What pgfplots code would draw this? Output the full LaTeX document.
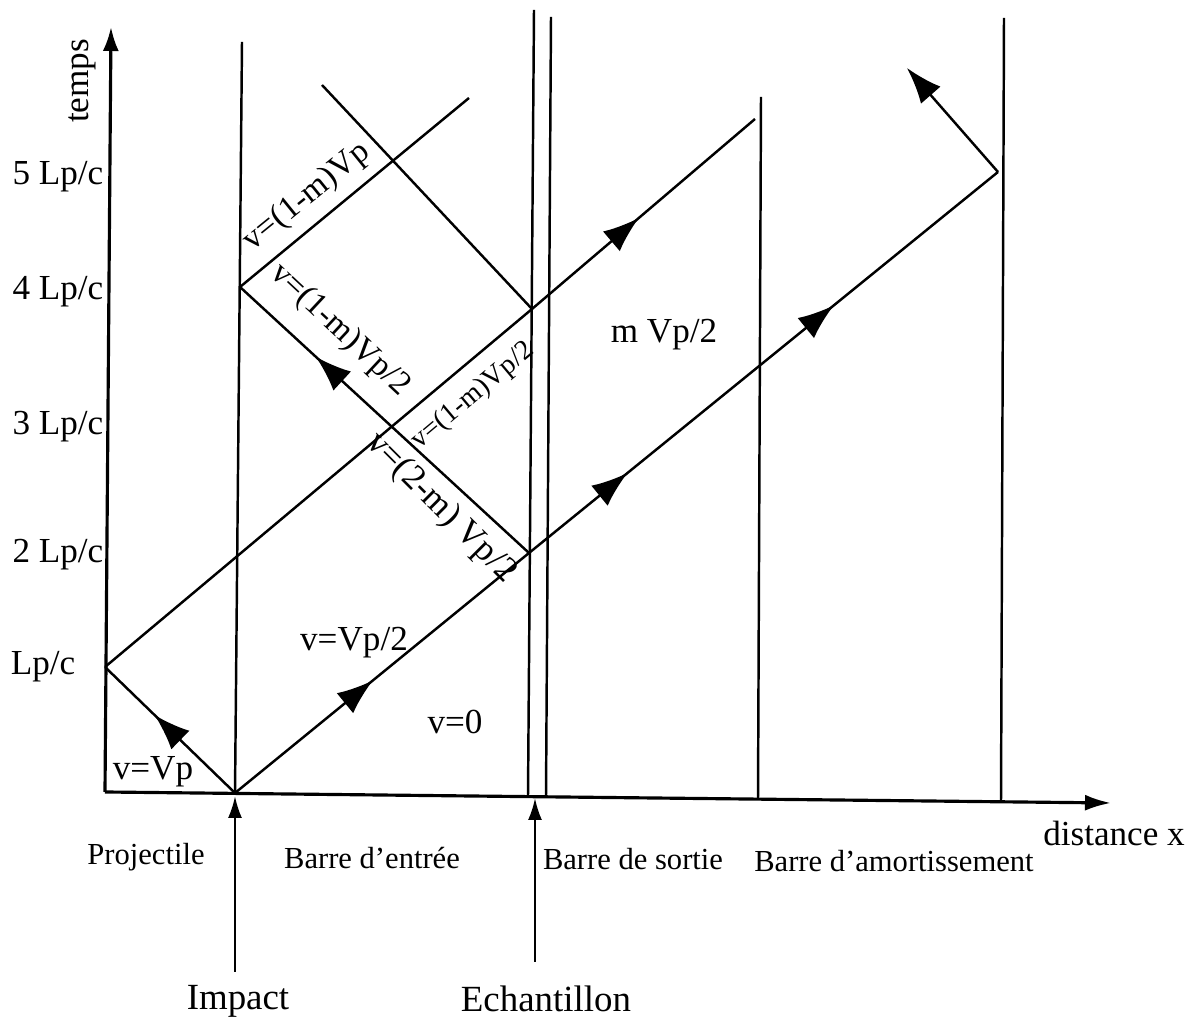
\documentclass[border=0pt]{standalone}
\usepackage{fontspec}
\setmainfont{Liberation Serif}
\usepackage{pgfplots}
\pgfplotsset{compat=1.18}
\usetikzlibrary{arrows.meta,decorations.markings}
\tikzset{
  marr/.style={postaction={decorate,decoration={markings,
     mark=at position #1 with {\arrow{Latex[length=3.6mm,width=2.6mm]}}}}},
  marrtwo/.style 2 args={postaction={decorate,decoration={markings,
     mark=at position #1 with {\arrow{Latex[length=3.6mm,width=2.6mm]}},
     mark=at position #2 with {\arrow{Latex[length=3.6mm,width=2.6mm]}}}}},
  lab/.style={font=\fontsize{10}{12}\selectfont,inner sep=0pt},
}
\begin{document}
\begin{tikzpicture}
\begin{axis}[width=12.03cm,height=10.2cm,scale only axis,
  xmin=0,xmax=1203,ymin=0,ymax=1020,y dir=reverse,
  hide axis,clip=false]
% bounding
\addplot[draw=none] coordinates {(0,0) (1203,1020)};
% axes
\addplot[black,line width=0.9pt,-{Latex[length=2.4mm,width=1.6mm]}] coordinates {(105,792) (111,27)};
\addplot[black,line width=0.9pt,-{Latex[length=2.6mm,width=1.6mm]}] coordinates {(105,792) (1111,803)};
% vertical lines (bar ends)
\addplot[black,line width=0.7pt] coordinates {(235,794) (242,42)};
\addplot[black,line width=0.7pt] coordinates {(528,796) (534,10)};
\addplot[black,line width=0.7pt] coordinates {(546,797) (551,17)};
\addplot[black,line width=0.7pt] coordinates {(758,800) (761,97)};
\addplot[black,line width=0.7pt] coordinates {(1001,802) (1004,18)};
% impact and specimen arrows
\addplot[black,line width=0.7pt,-{Latex[length=2.2mm,width=1.4mm]}] coordinates {(235,972) (235,796)};
\addplot[black,line width=0.7pt,-{Latex[length=2.2mm,width=1.4mm]}] coordinates {(535,962) (535,798)};
% waves
\addplot[black,line width=0.7pt,marr=0.62] coordinates {(235,793) (105,667)};
\addplot[black,line width=0.7pt] coordinates {(105,667) (532,309)};
\addplot[black,line width=0.7pt,marr=0.48] coordinates {(532,309) (755,119)};
\addplot[black,line width=0.7pt,marr=0.47] coordinates {(235,793) (529,553)};
\addplot[black,line width=0.7pt,marrtwo={0.21}{0.65}] coordinates {(529,553) (998,172)};
\addplot[black,line width=0.7pt,-{Latex[length=3.6mm,width=2.6mm]}] coordinates {(998,172) (907,68)};
\addplot[black,line width=0.7pt,marr=0.74] coordinates {(529,553) (240,287)};
\addplot[black,line width=0.7pt] coordinates {(240,287) (469,98)};
\addplot[black,line width=0.7pt] coordinates {(322,85) (532,309)};
% tick labels
\node[lab,anchor=east] at (axis cs:104,177) {5 Lp/c};
\node[lab,anchor=east] at (axis cs:104,292) {4 Lp/c};
\node[lab,anchor=east] at (axis cs:104,427) {3 Lp/c};
\node[lab,anchor=east] at (axis cs:104,555) {2 Lp/c};
\node[lab,anchor=east] at (axis cs:76,667) {Lp/c};
\node[lab,rotate=90] at (axis cs:82,81) {temps};
% region labels
\node[lab] at (axis cs:153,772) {v=Vp};
\node[lab] at (axis cs:354,643) {v=Vp/2};
\node[lab] at (axis cs:455,722) {v=0};
\node[lab] at (axis cs:664,335) {m Vp/2};
\node[lab,font=\fontsize{9.5}{11}\selectfont,rotate=39] at (axis cs:307,197) {v=(1-m)Vp};
\node[lab,font=\fontsize{9.5}{11}\selectfont,rotate=-43] at (axis cs:340,330) {v=(1-m)Vp/2};
\node[lab,font=\fontsize{8}{10}\selectfont,rotate=40] at (axis cs:473,396) {v=(1-m)Vp/2};
\node[lab,font=\fontsize{10}{12}\selectfont,rotate=-45] at (axis cs:441,508) {v=(2-m) Vp/2};
% bottom labels
\node[lab,font=\fontsize{8.7}{10}\selectfont] at (axis cs:146,857) {Projectile};
\node[lab,font=\fontsize{8.7}{10}\selectfont] at (axis cs:372,858) {Barre d’entrée};
\node[lab,font=\fontsize{8.7}{10}\selectfont] at (axis cs:633,859) {Barre de sortie};
\node[lab,font=\fontsize{8.7}{10}\selectfont] at (axis cs:894,861) {Barre d’amortissement};
\node[lab] at (axis cs:1114,833) {distance x};
\node[lab,font=\fontsize{10.5}{12}\selectfont,anchor=base] at (axis cs:238,1010) {Impact};
\node[lab,font=\fontsize{10.5}{12}\selectfont,anchor=base] at (axis cs:546,1012) {Echantillon};
\end{axis}
\end{tikzpicture}
\end{document}
